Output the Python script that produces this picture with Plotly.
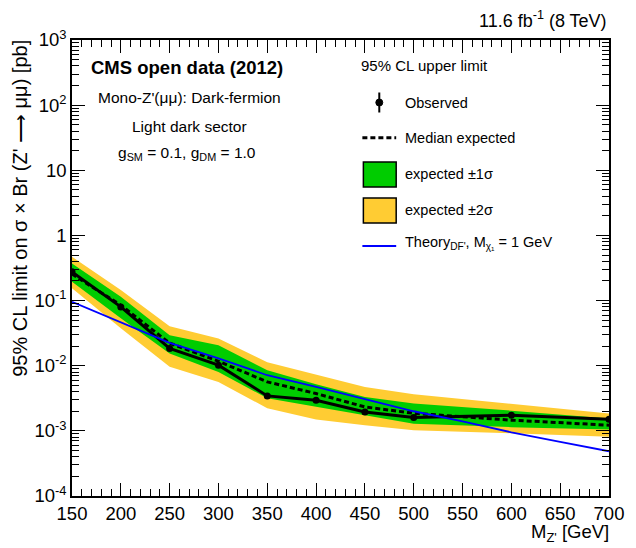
import plotly.graph_objects as go

# ---------------- data ----------------
mass = [150, 200, 250, 300, 350, 400, 450, 500, 600, 700]
observed = [0.276, 0.080, 0.0184, 0.0102, 0.00344, 0.00295, 0.00195, 0.0016, 0.00174, 0.00151]
expected = [0.255, 0.085, 0.0222, 0.0117, 0.00565, 0.00374, 0.00233, 0.00186, 0.00146, 0.00122]
exp_p1 = [0.37, 0.114, 0.0294, 0.0207, 0.00853, 0.0052, 0.00332, 0.00263, 0.00204, 0.00155]
exp_m1 = [0.195, 0.0537, 0.0154, 0.0080, 0.00317, 0.00234, 0.00174, 0.00129, 0.00114, 0.00105]
exp_p2 = [0.47, 0.145, 0.0405, 0.0262, 0.0113, 0.0074, 0.00472, 0.00365, 0.00257, 0.00185]
exp_m2 = [0.155, 0.0377, 0.0096, 0.00564, 0.00222, 0.0015, 0.00122, 0.00102, 0.00092, 0.00081]

theory_mass = [150, 200, 250, 300, 350, 400, 450, 500, 550, 600, 650, 700]
theory = [0.0955, 0.0466, 0.0224, 0.0130, 0.00714, 0.00475, 0.00305, 0.0020, 0.0014, 0.00095, 0.00068, 0.000486]

x_ticks = [150, 200, 250, 300, 350, 400, 450, 500, 550, 600, 650, 700]
y_tickvals = [1e3, 1e2, 1e1, 1, 1e-1, 1e-2, 1e-3, 1e-4]
y_ticktext = ["10<sup>3</sup>", "10<sup>2</sup>", "10", "1", "10<sup>-1</sup>",
              "10<sup>-2</sup>", "10<sup>-3</sup>", "10<sup>-4</sup>"]

GREEN = "#00cc00"
YELLOW = "#ffcc33"
FONT = "Liberation Sans, Arial, Helvetica, sans-serif"

# page body margin of the html page shifts the figure by 8 px
OFF = 8
W, H = 636 - OFF, 548 - OFF
# plot frame in reference pixel coordinates
L, R, T, B = 72, 612, 40, 496


def px(xp):
    return (xp - L) / (R - L)


def py(yp):
    return (B - yp) / (B - T)


fig = go.Figure()

# +-2 sigma band
fig.add_trace(go.Scatter(x=mass, y=exp_p2, mode="lines", line=dict(width=0, color=YELLOW),
                         showlegend=False, hoverinfo="skip"))
fig.add_trace(go.Scatter(x=mass, y=exp_m2, mode="lines", line=dict(width=0, color=YELLOW),
                         fill="tonexty", fillcolor=YELLOW, showlegend=False, hoverinfo="skip"))
# +-1 sigma band
fig.add_trace(go.Scatter(x=mass, y=exp_p1, mode="lines", line=dict(width=0, color=GREEN),
                         showlegend=False, hoverinfo="skip"))
fig.add_trace(go.Scatter(x=mass, y=exp_m1, mode="lines", line=dict(width=0, color=GREEN),
                         fill="tonexty", fillcolor=GREEN, showlegend=False, hoverinfo="skip"))
# median expected
fig.add_trace(go.Scatter(x=mass, y=expected, mode="lines",
                         line=dict(color="black", width=3, dash="5px,3px"), showlegend=False))
# observed
fig.add_trace(go.Scatter(x=mass, y=observed, mode="lines+markers",
                         line=dict(color="black", width=3),
                         marker=dict(color="black", size=7), showlegend=False))
# theory
fig.add_trace(go.Scatter(x=theory_mass, y=theory, mode="lines",
                         line=dict(color="#0000ff", width=1.8), showlegend=False))

shapes = []
annotations = []

# ---------------- manual legend ----------------
lx0, lx1 = 364, 398
shapes.append(dict(type="line", xref="paper", yref="paper", x0=px(381), x1=px(381),
                   y0=py(92.5), y1=py(112.5), line=dict(color="black", width=2)))
shapes.append(dict(type="circle", xref="paper", yref="paper", x0=px(377.5), x1=px(384.5),
                   y0=py(99), y1=py(106), fillcolor="black", line=dict(color="black", width=1)))
shapes.append(dict(type="line", xref="paper", yref="paper", x0=px(lx0), x1=px(lx1),
                   y0=py(137.7), y1=py(137.7), line=dict(color="black", width=3, dash="5px,3px")))
shapes.append(dict(type="rect", xref="paper", yref="paper", x0=px(365), x1=px(398),
                   y0=py(162), y1=py(187), fillcolor=GREEN, line=dict(color="black", width=1.5)))
shapes.append(dict(type="rect", xref="paper", yref="paper", x0=px(365), x1=px(398),
                   y0=py(198), y1=py(223), fillcolor=YELLOW, line=dict(color="black", width=1.5)))
shapes.append(dict(type="line", xref="paper", yref="paper", x0=px(lx0), x1=px(lx1),
                   y0=py(246), y1=py(246), line=dict(color="#0000ff", width=2)))


def text(xp, yp, s, size, xanchor="left", bold=False, angle=0, yanchor="middle"):
    annotations.append(dict(
        x=px(xp), y=py(yp), xref="paper", yref="paper", text=("<b>%s</b>" % s) if bold else s,
        showarrow=False, xanchor=xanchor, yanchor=yanchor, textangle=angle,
        font=dict(family=FONT, size=size, color="black")))


leg_size = 14.5
text(361, 66, "95% CL upper limit", 15)
text(405, 102.5, "Observed", leg_size)
text(405, 137.7, "Median expected", leg_size)
text(405, 174, "expected ±1σ", leg_size)
text(405, 210, "expected ±2σ", leg_size)
text(405, 243, "Theory<sub>DF'</sub>, M<sub>χ₁</sub> = 1 GeV", leg_size)

text(188, 67, "CMS open data (2012)", 18.5, xanchor="center", bold=True)
text(190, 97, "Mono-Z'(μμ): Dark-fermion", 15.5, xanchor="center")
text(190, 126, "Light dark sector", 15.5, xanchor="center")
text(188, 153, "g<sub>SM</sub> = 0.1, g<sub>DM</sub> = 1.0", 15.5, xanchor="center")

text(612, 19, "11.6 fb<sup>-1</sup> (8 TeV)", 18, xanchor="right")

text(614, 533, "M<sub>Z'</sub> [GeV]", 18.5, xanchor="right")
text(19, 38, "95% CL limit on σ × Br (Z' ⟶ μμ) [pb]", 20, xanchor="center",
     angle=-90, yanchor="top")

fig.update_layout(
    width=W, height=H,
    margin=dict(l=L - OFF, r=636 - R, t=T - OFF, b=548 - B, pad=0),
    paper_bgcolor="white", plot_bgcolor="white",
    font=dict(family=FONT, size=18, color="black"),
    shapes=shapes, annotations=annotations,
    showlegend=False,
)

fig.update_xaxes(
    range=[150, 700], tickvals=x_ticks, ticktext=[str(v) for v in x_ticks],
    showgrid=False, zeroline=False,
    showline=True, linecolor="black", linewidth=1.5, mirror="allticks",
    ticks="inside", ticklen=13, tickwidth=1.2, tickcolor="black",
    minor=dict(ticks="inside", dtick=10, tick0=150, ticklen=7, tickwidth=1.2,
               tickcolor="black", showgrid=False),
    tickfont=dict(size=18.5),
)
fig.update_yaxes(
    type="log", range=[-4, 3], tickvals=y_tickvals, ticktext=y_ticktext,
    showgrid=False, zeroline=False,
    showline=True, linecolor="black", linewidth=1.5, mirror="allticks",
    ticks="inside", ticklen=13, tickwidth=1.2, tickcolor="black",
    minor=dict(ticks="inside", dtick="D1", ticklen=7, tickwidth=1.2,
               tickcolor="black", showgrid=False),
    tickfont=dict(size=18.5),
)

fig.write_html("out.html")
